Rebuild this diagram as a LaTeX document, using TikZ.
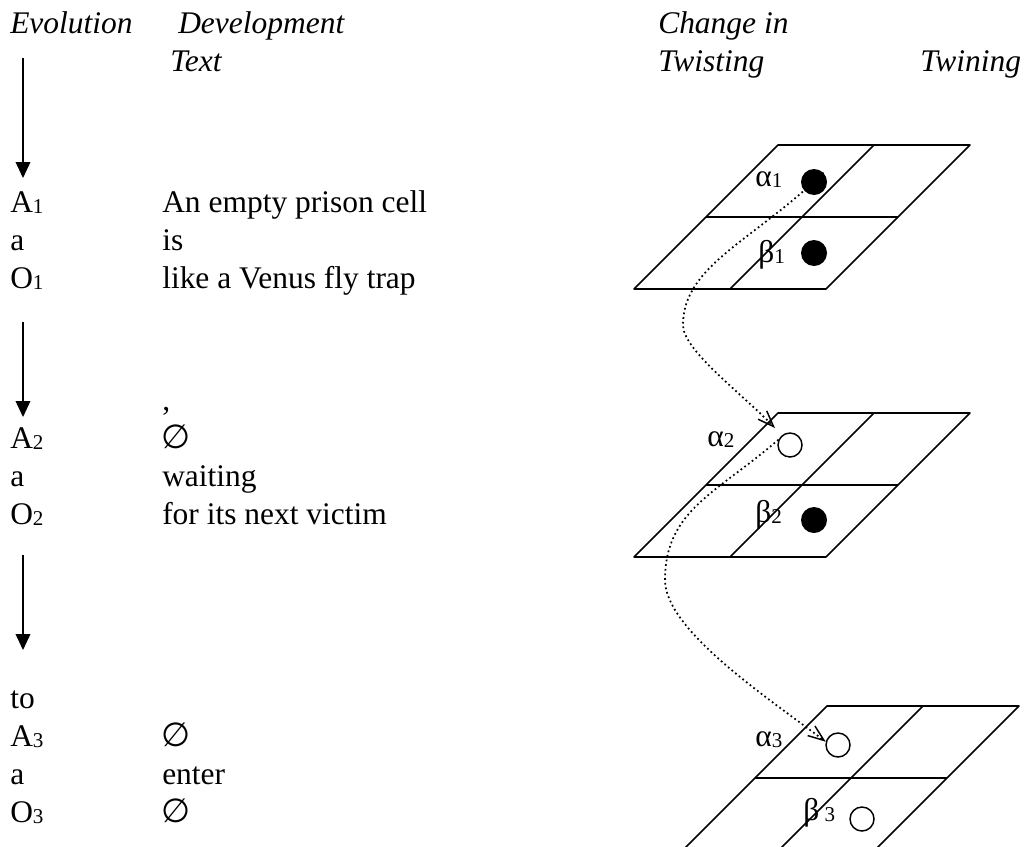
\documentclass[tikz,border=0pt]{standalone}
\usepackage{fontspec}
\setmainfont{Liberation Serif}
\newfontfamily\symfont{DejaVu Sans}
\usetikzlibrary{arrows.meta}
\newcommand{\mysub}[1]{\raisebox{-0.06em}{\fontsize{15.8pt}{15.8pt}\selectfont #1}}
\newcommand{\emptyglyph}{{\symfont\fontsize{25pt}{25pt}\selectfont ∅}}
\newcommand{\pgrid}[2]{%
  \draw[gridline] ({#1},{#2}) -- ++(192,0) -- ++(-144,144) -- ++(-192,0) -- cycle;
  \draw[gridline] ({#1+96},{#2}) -- ++(-144,144);
  \draw[gridline] ({#1-72},{#2+72}) -- ++(192,0);
}
\begin{document}
\begin{tikzpicture}[x=0.75pt,y=-0.75pt,
  txt/.style={anchor=base west, inner sep=0pt, font=\fontsize{23.6pt}{28pt}\selectfont},
  hdr/.style={anchor=base west, inner sep=0pt, font=\fontsize{23.6pt}{28pt}\selectfont\itshape},
  evarrow/.style={line width=1.2pt, -{Triangle[length=12pt,width=11pt]}},
  gridline/.style={line width=1.2pt, line join=round},
  fdot/.style={circle, fill=black, inner sep=0pt, minimum size=19.5pt},
  odot/.style={circle, draw=black, line width=1.1pt, inner sep=0pt, minimum size=18pt},
  twist/.style={line width=1.3pt, dash pattern=on 1.3pt off 2.2pt,
    -{Straight Barb[length=12pt,width=9pt,line width=1.1pt]}}
]
\path[use as bounding box] (0,0) rectangle (1027,846);

% headers
\node[hdr] (hEvo) at (10,33) {Evolution};
\node[hdr] (hDev) at (178,33) {Development};
\node[hdr] (hText) at (170,71) {Text};
\node[hdr] (hChange) at (658,33) {Change in};
\node[hdr] (hTwist) at (658,71) {Twisting};
\node[hdr] (hTwin) at (920,71) {Twining};

% evolution arrows
\coordinate (ev1s) at (23,58);  \coordinate (ev1e) at (23,178);
\coordinate (ev2s) at (23,322); \coordinate (ev2e) at (23,417);
\coordinate (ev3s) at (23,555); \coordinate (ev3e) at (23,650);
\draw[evarrow] (ev1s) -- (ev1e);
\draw[evarrow] (ev2s) -- (ev2e);
\draw[evarrow] (ev3s) -- (ev3e);

% block 1
\node[txt] (l1a) at (10,212) {A\mysub{1}};
\node[txt] (t1a) at (162,212) {An empty prison cell};
\node[txt] (l1b) at (10,250) {a};
\node[txt] (t1b) at (162,250) {is};
\node[txt] (l1c) at (10,288) {O\mysub{1}};
\node[txt] (t1c) at (162,288) {like a Venus fly trap};

% block 2
\node[txt] (t2z) at (162,410) {,};
\node[txt] (l2a) at (10,448) {A\mysub{2}};
\node[txt] (t2a) at (161,448) {\emptyglyph};
\node[txt] (l2b) at (10,486) {a};
\node[txt] (t2b) at (162,486) {waiting};
\node[txt] (l2c) at (10,524) {O\mysub{2}};
\node[txt] (t2c) at (162,524) {for its next victim};

% block 3
\node[txt] (l3z) at (10,708) {to};
\node[txt] (l3a) at (10,746) {A\mysub{3}};
\node[txt] (t3a) at (161,746) {\emptyglyph};
\node[txt] (l3b) at (10,784) {a};
\node[txt] (t3b) at (162,784) {enter};
\node[txt] (l3c) at (10,822) {O\mysub{3}};
\node[txt] (t3c) at (161,822) {\emptyglyph};

% grids
\pgrid{778}{145}
\pgrid{778}{413}
\begin{scope}
  \clip (0,0) rectangle (1027,846);
  \pgrid{827}{706}
\end{scope}

% greek labels
\node[txt] (ga1) at (755,186) {α\mysub{1}};
\node[txt] (gb1) at (758,262) {β\mysub{1}};
\node[txt] (ga2) at (707,446) {α\mysub{2}};
\node[txt] (gb2) at (755,522) {β\mysub{2}};
\node[txt] (ga3) at (755,746) {α\mysub{3}};
\node[txt] (gb3) at (803,820) {β\,\mysub{3}};

% dots
\node[fdot] (da1) at (814,182) {};
\node[fdot] (db1) at (814,253) {};
\node[odot] (da2) at (790,445) {};
\node[fdot] (db2) at (814,520) {};
\node[odot] (da3) at (838,745) {};
\node[odot] (db3) at (862,819) {};

% twisting curves
\coordinate (e1) at (775,428);
\draw[twist] (da1.north east) .. controls (755,240) and (683,265) .. (683,325)
  .. controls (683,350) and (740,392) .. (e1);
\draw[twist] (da2.155) .. controls (717,493) and (665,510) .. (665,580)
  .. controls (665,630) and (768,698) .. (da3.165);
\end{tikzpicture}
\end{document}
